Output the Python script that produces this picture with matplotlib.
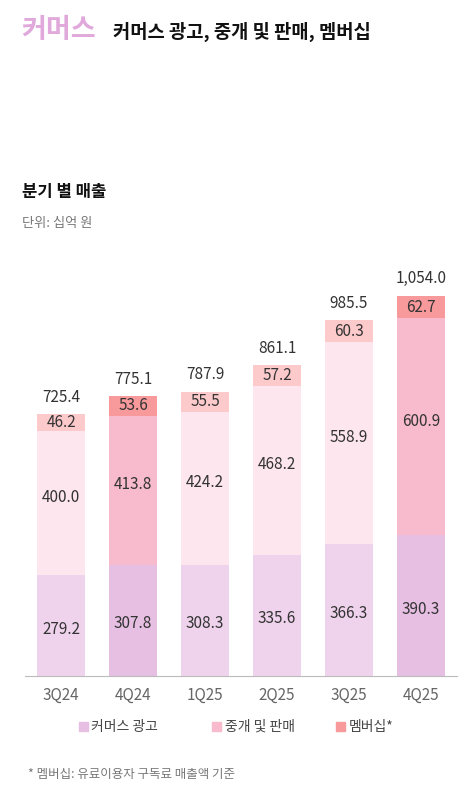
import matplotlib
matplotlib.use("Agg")
import matplotlib.pyplot as plt
from matplotlib.patches import Rectangle

plt.rcParams['font.family'] = ['Noto Sans CJK KR', 'DejaVu Sans']

quarters = ["3Q24", "4Q24", "1Q25", "2Q25", "3Q25", "4Q25"]
ads = [279.2, 307.8, 308.3, 335.6, 366.3, 390.3]
brokerage = [400.0, 413.8, 424.2, 468.2, 558.9, 600.9]
membership = [46.2, 53.6, 55.5, 57.2, 60.3, 62.7]
totals = ["725.4", "775.1", "787.9", "861.1", "985.5", "1,054.0"]
highlight = [False, True, False, False, False, True]

c_ad = ("#EFD3EC", "#E6BFE3")
c_br = ("#FDE6EE", "#F7BBCD")
c_mem = ("#FDCACC", "#F89A9C")

fig = plt.figure(figsize=(4.76, 7.97), dpi=100)
ax = fig.add_axes([0.053, 0.152, 0.907, 0.543])
x = list(range(len(quarters)))
w = 0.67
for i in x:
    h = 1 if highlight[i] else 0
    ax.bar(i, ads[i], w, color=c_ad[h])
    ax.bar(i, brokerage[i], w, bottom=ads[i], color=c_br[h])
    ax.bar(i, membership[i], w, bottom=ads[i] + brokerage[i], color=c_mem[h])
    tc = "#333333"
    ax.text(i, ads[i] / 2 - 10, f"{ads[i]:.1f}", ha="center", va="center", fontsize=11, color=tc)
    ax.text(i, ads[i] + brokerage[i] / 2 + 15, f"{brokerage[i]:.1f}", ha="center", va="center", fontsize=11, color=tc)
    ax.text(i, ads[i] + brokerage[i] + membership[i] / 2, f"{membership[i]:.1f}", ha="center", va="center", fontsize=11, color=tc)
    tot = ads[i] + brokerage[i] + membership[i]
    ax.text(i, tot + 47, totals[i], ha="center", va="center", fontsize=11, color=tc)

ax.set_xlim(-0.5, 5.5)
ax.set_ylim(0, 1200)
ax.set_xticks(x)
ax.set_xticklabels(quarters, fontsize=11, color="#666666")
ax.tick_params(axis="x", length=0, pad=8)
ax.set_yticks([])
for s in ["top", "right", "left"]:
    ax.spines[s].set_visible(False)
ax.spines["bottom"].set_color("#BBBBBB")

fig.text(0.044, 0.962, "커머스", fontsize=19.5, fontweight="bold", color="#E0A8DB", va="center")
fig.text(0.237, 0.960, "커머스 광고, 중개 및 판매, 멤버십", fontsize=13.5, fontweight="bold", color="#111111", va="center")
fig.text(0.046, 0.759, "분기 별 매출", fontsize=12, fontweight="bold", color="#111111", va="center")
fig.text(0.046, 0.719, "단위: 십억 원", fontsize=9.5, color="#777777", va="center")

legend_items = [("커머스 광고", c_ad[1], 0.165), ("중개 및 판매", c_br[1], 0.445), ("멤버십*", c_mem[1], 0.705)]
for label, col, xf in legend_items:
    fig.patches.append(Rectangle((xf, 0.083), 0.019, 0.011, transform=fig.transFigure, color=col))
    fig.text(xf + 0.027, 0.088, label, fontsize=10, color="#444444", va="center")

fig.text(0.058, 0.028, "* 멤버십: 유료이용자 구독료 매출액 기준", fontsize=9, color="#777777", va="center")

fig.savefig("out.png", dpi=100)
